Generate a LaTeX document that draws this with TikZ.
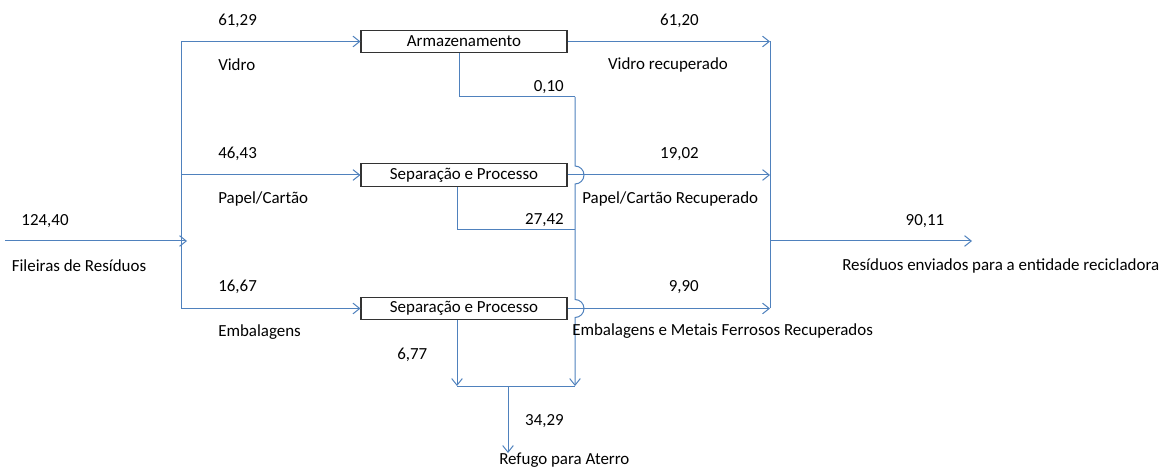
\documentclass[tikz,border=0pt]{standalone}
\usepackage{fontspec}
\setmainfont{Carlito}
\usetikzlibrary{arrows.meta}
\tikzset{>={Straight Barb[length=5pt,width=8pt]}}
\definecolor{flowblue}{RGB}{79,129,189}
\tikzset{
  line/.style={draw=flowblue,line width=0.75pt},
  flow/.style={line,->},
  procbox/.style={draw=black!80,line width=0.8pt,fill=white,minimum width=154.5pt,minimum height=17pt,inner sep=0pt,font=\fontsize{12.7pt}{14pt}\selectfont},
  lbl/.style={inner sep=0pt,font=\fontsize{12.7pt}{14pt}\selectfont}
}
\begin{document}
\begin{tikzpicture}[x=0.75pt,y=-0.75pt]
  \useasboundingbox (0,0) rectangle (1160,470);
  \node[procbox] (arm) at (464,41.5) {Armazenamento};
  \node[procbox] (sep1) at (464,175) {Separação e Processo};
  \node[procbox] (sep2) at (464,308.5) {Separação e Processo};

  \coordinate (inL) at (5,241);
  \coordinate (inR) at (187,241);
  \coordinate (bL) at (181,0);
  \coordinate (bR) at (770,0);
  \coordinate (out) at (972,241);
  \draw[flow] (inL) -- (inR);
  \draw[line] (bL |- arm.west) -- (bL |- sep2.west);
  \draw[flow] (bL |- arm.west) -- (arm.west);
  \draw[flow] (bL |- sep1.west) -- (sep1.west);
  \draw[flow] (bL |- sep2.west) -- (sep2.west);

  \draw[flow] (arm.east) -- (arm.east -| bR);
  \draw[flow] (sep1.east) -- (sep1.east -| bR);
  \draw[flow] (sep2.east) -- (sep2.east -| bR);
  \draw[line] (arm.east -| bR) -- (sep2.east -| bR);
  \draw[flow] (bR |- out) -- (out);

  \coordinate (armdn) at (459,97);
  \coordinate (j1) at (575,97);
  \coordinate (s1dn) at (457,230);
  \coordinate (s2dn) at (457,386);
  \coordinate (jb) at (575,386);
  \coordinate (ref) at (508,453);
  \draw[line] (armdn |- arm.south) -- (armdn) -- (j1);
  \draw[flow] (j1) -- (575,166) arc[start angle=-90,end angle=90,radius=9]
    -- (575,299.5) arc[start angle=-90,end angle=90,radius=9] -- (jb);
  \draw[line] (s1dn |- sep1.south) -- (s1dn) -- (j1 |- s1dn);
  \draw[flow] (s2dn |- sep2.south) -- (s2dn);
  \draw[line] (s2dn) -- (jb);
  \draw[flow] (ref |- s2dn) -- (ref);

  \node[lbl,anchor=west] (vin) at (218,21) {61,29};
  \node[lbl,anchor=west] (vname) at (218,65) {Vidro};
  \node[lbl,anchor=west] (pin) at (218,154) {46,43};
  \node[lbl,anchor=west] (pname) at (218,199) {Papel/Cartão};
  \node[lbl,anchor=west] (ein) at (218,287) {16,67};
  \node[lbl,anchor=west] (ename) at (218,332) {Embalagens};
  \node[lbl,anchor=west] (erej) at (397,355) {6,77};
  \node[lbl] (tin) at (45,221) {124,40};
  \node[lbl] (tname) at (79,266) {Fileiras de Resíduos};

  \node[lbl,anchor=east] (vout) at (699,21) {61,20};
  \node[lbl] (voname) at (668,65) {Vidro recuperado};
  \node[lbl,anchor=east] (pout) at (699,154) {19,02};
  \node[lbl,anchor=west] (poname) at (582,199) {Papel/Cartão Recuperado};
  \node[lbl,anchor=east] (eout) at (699,287) {9,90};
  \node[lbl,anchor=west] (eoname) at (572,331) {Embalagens e Metais Ferrosos Recuperados};
  \node[lbl,anchor=east] (vrej) at (564,87) {0,10};
  \node[lbl,anchor=east] (prej) at (564,220) {27,42};
  \node[lbl,anchor=east] (trej) at (564,421) {34,29};
  \node[lbl,anchor=west] (rname) at (499,460) {Refugo para Aterro};
  \node[lbl] (tout) at (925,221) {90,11};
  \node[lbl,anchor=west] (toname) at (842,266) {Resíduos enviados para a entidade recicladora};
\end{tikzpicture}
\end{document}
